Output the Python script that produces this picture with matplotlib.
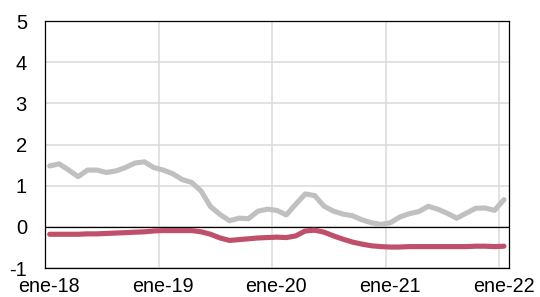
import matplotlib
matplotlib.use("Agg")
import matplotlib.pyplot as plt
import numpy as np

plt.rcParams['font.family'] = ['Liberation Sans', 'DejaVu Sans']

# Monthly data, ene-18 .. ene-22
gray_vals = [1.48, 1.53, 1.38, 1.22, 1.38, 1.38, 1.32, 1.36, 1.44, 1.55,
             1.58, 1.44, 1.38, 1.29, 1.15, 1.08, 0.87, 0.49, 0.30, 0.15,
             0.21, 0.20, 0.38, 0.43, 0.40, 0.29, 0.55, 0.80, 0.76, 0.50,
             0.38, 0.31, 0.27, 0.17, 0.10, 0.06, 0.10, 0.24, 0.32, 0.37,
             0.50, 0.43, 0.33, 0.21, 0.33, 0.45, 0.46, 0.40, 0.66]
red_vals = [-0.18, -0.18, -0.18, -0.18, -0.17, -0.17, -0.16, -0.15, -0.14, -0.13,
            -0.12, -0.10, -0.09, -0.09, -0.09, -0.09, -0.12, -0.18, -0.27, -0.33,
            -0.31, -0.29, -0.27, -0.26, -0.25, -0.26, -0.22, -0.10, -0.08, -0.13,
            -0.22, -0.30, -0.37, -0.42, -0.46, -0.48, -0.49, -0.49, -0.48, -0.48,
            -0.48, -0.48, -0.48, -0.48, -0.48, -0.47, -0.47, -0.48, -0.47]
tick_labels = ['ene-18', 'ene-19', 'ene-20', 'ene-21', 'ene-22']
y_ticks = [-1, 0, 1, 2, 3, 4, 5]

n = len(gray_vals)
x = np.arange(n) + 0.5

fig = plt.figure(figsize=(5.4, 2.97), dpi=100)
ax = fig.add_axes([0.0833, 0.0976, 0.8587, 0.8314])

ax.plot(x, gray_vals, color='#c0c0c0', lw=3.7, solid_capstyle='round', solid_joinstyle='round', zorder=3)
ax.plot(x, red_vals, color='#bf4f6b', lw=3.7, solid_capstyle='round', solid_joinstyle='round', zorder=4)
ax.axhline(0, color='black', lw=0.9, zorder=2)

ax.set_xlim(0, n)
ax.set_ylim(-1, 5)
ax.set_yticks(y_ticks)
ax.set_yticklabels([str(v) for v in y_ticks])

major = np.arange(0, n, 12)
ax.set_xticks(major)
ax.set_xticklabels([''] * len(major))
ax.set_xticks(major + 0.45, minor=True)
ax.set_xticklabels(tick_labels, minor=True)

ax.grid(True, which='major', color='#dadada', lw=1.1, zorder=0)
ax.tick_params(which='both', length=0)
ax.tick_params(axis='y', labelsize=14.5, pad=13)
ax.tick_params(axis='x', which='minor', labelsize=14.2, pad=6.5)
for s in ax.spines.values():
    s.set_color('black')
    s.set_linewidth(0.9)
ax.set_axisbelow(True)

fig.savefig('out.png', dpi=100)
